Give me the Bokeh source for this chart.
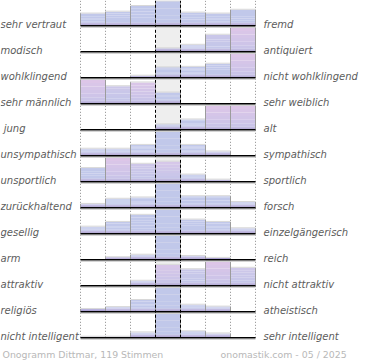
import numpy as np
from bokeh.plotting import figure
from bokeh.models import Range1d, ColumnDataSource
from bokeh.embed import file_html
from bokeh.resources import INLINE
from bokeh.core.properties import value

# ---------------- data ----------------
links = ["sehr vertraut", "modisch", "wohlklingend", "sehr männlich", " jung",
         "unsympathisch", "unsportlich", "zurückhaltend", "gesellig", "arm",
         "attraktiv", "religiös", "nicht intelligent"]
rechts = ["fremd", "antiquiert", "nicht wohlklingend", "sehr weiblich", "alt",
          "sympathisch", "sportlich", "forsch", "einzelgängerisch", "reich",
          "nicht attraktiv", "atheistisch", "sehr intelligent"]
stimmen = [
    [13, 15, 21, 26, 14, 13, 17],
    [0, 0, 0, 8, 16, 39, 56],
    [0, 0, 4, 20, 21, 27, 47],
    [39, 28, 34, 18, 0, 0, 0],
    [0, 0, 0, 10, 19, 45, 45],
    [13, 13, 20, 45, 20, 8, 0],
    [19, 34, 25, 28, 10, 3, 0],
    [6, 14, 16, 38, 18, 18, 9],
    [9, 15, 24, 31, 18, 15, 7],
    [0, 8, 16, 77, 12, 6, 0],
    [0, 1, 7, 29, 23, 34, 25],
    [6, 10, 25, 52, 15, 11, 0],
    [3, 3, 15, 68, 18, 12, 0],
]
titel = "Onogramm Dittmar, 119 Stimmen"
quelle = "onomastik.com - 05 / 2025"

# ---------------- geometry (pixels) ----------------
W, H = 370, 360
COL_PX = 25.0          # width of one column
ROW_PX = 26.0          # distance between row baselines
X0_PX = 80.0           # left edge of first column
LAST_BASE_PX = 337.3   # baseline of the last row
BAR_MAX_PX = 24.5

n_rows = len(stimmen)
n_cols = 7
px = 1.0 / ROW_PX      # one pixel in y units
pxx = 1.0 / COL_PX     # one pixel in x units

x_start = -X0_PX / COL_PX
x_end = (W - X0_PX) / COL_PX
y_end = LAST_BASE_PX / ROW_PX
y_start = -(H - LAST_BASE_PX) / ROW_PX

p = figure(width=W, height=H, output_backend="svg", toolbar_location=None,
           x_range=Range1d(x_start, x_end), y_range=Range1d(y_start, y_end),
           min_border=0, outline_line_color=None,
           background_fill_color="white", border_fill_color="white",
           margin=(0, 0, 0, 0))
p.axis.visible = False
p.xgrid.visible = False
p.ygrid.visible = False

# centre column background
p.quad(left=[3], right=[4], bottom=[0], top=[y_end], fill_color="#eeeeee", line_color=None)

# dotted grid lines
for j in [0, 1, 2, 5, 6, 7]:
    p.segment(x0=[j], y0=[0], x1=[j], y1=[y_end], line_color="#8a8a8a",
              line_width=1, line_dash="1 2")


def mix(c1, c2, t):
    a = np.array([int(c1[i:i + 2], 16) for i in (1, 3, 5)], float)
    b = np.array([int(c2[i:i + 2], 16) for i in (1, 3, 5)], float)
    c = a + (b - a) * t
    return "#%02x%02x%02x" % tuple(int(round(v)) for v in c)


BLUE = "#c1c8ea"
PINK = "#dfc6e8"
LAV = "#c8c4e8"
STRIP = ["#b8b2de", "#aba1d2", "#9d91c6"]

L, R, B, T, C = [], [], [], [], []
edges = dict(x0=[], y0=[], x1=[], y1=[])
tops = dict(x0=[], y0=[], x1=[], y1=[])
for i, row in enumerate(stimmen):
    base = n_rows - 1 - i
    mx = max(row)
    mode = int(np.argmax(row))
    for j, v in enumerate(row):
        if v <= 0:
            continue
        ratio = v / mx
        h = ratio * BAR_MAX_PX * px
        t = 0.0
        if mode != 3:
            t = float(np.clip((ratio - 0.6) / 0.3, 0, 1))
        ctop = mix(BLUE, PINK, t)
        cbot = mix(BLUE, LAV, t)
        strip_h = min(3 * px, h)
        body = h - strip_h
        nsl = 6
        if body > 0:
            for k in range(nsl):
                b0 = base + strip_h + body * k / nsl
                b1 = base + strip_h + body * (k + 1) / nsl
                L.append(j); R.append(j + 1); B.append(b0); T.append(b1)
                C.append(mix(cbot, ctop, (k + 0.5) / nsl))
        ns = int(np.ceil(strip_h / px - 1e-9))
        for k in range(ns):
            b1 = base + strip_h - k * px
            b0 = max(base, b1 - px)
            L.append(j); R.append(j + 1); B.append(b0); T.append(b1)
            C.append(STRIP[min(k + (3 - ns), 2)])
        for xe in (j, j + 1):
            edges["x0"].append(xe); edges["x1"].append(xe)
            edges["y0"].append(base); edges["y1"].append(base + h)
        tops["x0"].append(j); tops["x1"].append(j + 1)
        tops["y0"].append(base + h + 0.5 * px); tops["y1"].append(base + h + 0.5 * px)

p.quad(source=ColumnDataSource(dict(left=L, right=R, bottom=B, top=T, color=C)),
       left="left", right="right", bottom="bottom", top="top",
       fill_color="color", line_color=None)
p.segment(source=ColumnDataSource(tops), x0="x0", y0="y0", x1="x1", y1="y1",
          line_color="#d8d8d8", line_width=1)
p.segment(source=ColumnDataSource(edges), x0="x0", y0="y0", x1="x1", y1="y1",
          line_color="#9c9c9c", line_width=1)

# dashed centre lines
for j in [3, 4]:
    p.segment(x0=[j], y0=[0], x1=[j], y1=[y_end], line_color="black",
              line_width=1, line_dash="3 2")

# baselines with light shadow
bases = [n_rows - 1 - i for i in range(n_rows)]
p.segment(x0=[0] * n_rows, x1=[7] * n_rows, y0=[b - 1.6 * px for b in bases],
          y1=[b - 1.6 * px for b in bases], line_color="#d0d0d0", line_width=1)
p.segment(x0=[0] * n_rows, x1=[7] * n_rows, y0=bases, y1=bases,
          line_color="black", line_width=1.6)

# labels (leading spaces kept visible as non-breaking spaces)
links_txt = ["\u00a0" * (len(s) - len(s.lstrip(" "))) + s.lstrip(" ") for s in links]
lab_y = [b + 1.4 * px for b in bases]
p.text(x=[x_start] * n_rows, y=lab_y, text=links_txt, text_font=value("DejaVu Sans"),
       text_font_size="10px", text_font_style="italic", text_color="#5c5c5c",
       text_baseline="alphabetic", text_align="left")
p.text(x=[7 + 8 * pxx] * n_rows, y=lab_y, text=rechts, text_font=value("DejaVu Sans"),
       text_font_size="10px", text_font_style="italic", text_color="#5c5c5c",
       text_baseline="alphabetic", text_align="left")

# footer
foot_y = -(354 - LAST_BASE_PX) * px
p.text(x=[x_start + 2 * pxx], y=[foot_y], text=[titel], text_font=value("DejaVu Sans"),
       text_font_size="9.4px", text_color="#b8b8b8", text_baseline="alphabetic")
p.text(x=[(220 - X0_PX) * pxx], y=[foot_y], text=[quelle], text_font=value("DejaVu Sans"),
       text_font_size="9.4px", text_color="#b8b8b8", text_baseline="alphabetic")

open("out.html", "w").write(file_html(p, INLINE))
